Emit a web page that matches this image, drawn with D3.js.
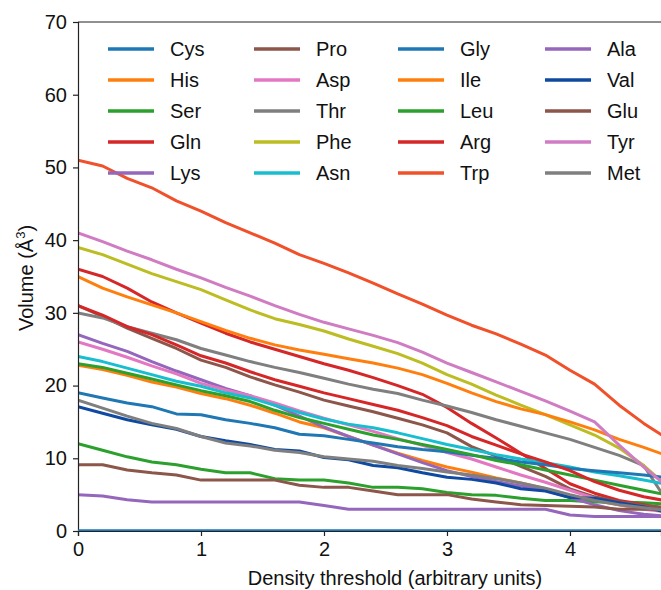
<!DOCTYPE html>
<html><head><meta charset="utf-8">
<script src="https://cdn.jsdelivr.net/npm/d3@7"></script>
<style>body{margin:0;background:#fff}svg{display:block}text{font-family:"Liberation Sans",Arial,sans-serif;fill:#111}</style>
</head><body><svg id="c" width="661" height="590"></svg>
<script>
const thresholds = [0,0.2,0.4,0.6,0.8,1.0,1.2,1.4,1.6,1.8,2.0,2.2,2.4,2.6,2.8,3.0,3.2,3.4,3.6,3.8,4.0,4.2,4.4,4.6,4.8];
const residues = ["Cys","His","Ser","Gln","Lys","Pro","Asp","Thr","Phe","Asn","Gly","Ile","Leu","Arg","Trp","Ala","Val","Glu","Tyr","Met"];
const colors = ["#1f77b4","#ff7f0e","#2ca02c","#d62728","#9467bd","#8c564b","#e377c2","#7f7f7f","#bcbd22","#17becf","#1f77b4","#ff7f0e","#2ca02c","#d62728","#f0502a","#9467bd","#0f4aa0","#8c564b","#d07cc3","#7f7f7f"];
const Cys = [0,0,0,0,0,0,0,0,0,0,0,0,0,0,0,0,0,0,0,0,0,0,0,0,0];
const His = [22.8,22.2,21.4,20.5,19.8,18.9,18.2,17.3,16.2,15.0,14.2,13.0,11.8,10.7,9.7,8.8,8.1,7.3,6.6,5.8,4.9,4.2,3.6,3.1,2.8];
const Ser = [12,11.1,10.2,9.5,9.1,8.5,8.0,8.0,7.2,7.0,7.0,6.6,6.0,6.0,5.8,5.3,5.0,4.9,4.5,4.2,4.2,4.0,4.0,3.9,3.7];
const Gln = [36,35,33.4,31.5,30,28.6,27.2,26,25,24,23,22.1,21.1,20,18.8,17,14.8,12.8,10.7,8.6,6.5,5.2,4.2,3.6,3.0];
const Lys = [27,25.8,24.7,23.3,22,20.8,19.6,18.6,17.3,15.8,14.3,13.0,11.8,10.6,9.4,8.3,7.5,6.8,6.2,5.6,4.6,3.6,2.8,2.3,2.0];
const Pro = [31,29.5,27.9,26.5,25.1,23.5,22.5,21.2,20.1,19.1,18.0,17.2,16.4,15.5,14.6,13.5,11.6,10.3,8.9,7.5,5.8,4.7,4.0,3.5,3.2];
const Asp = [26,25,23.9,22.7,21.6,20.3,19.4,18.6,17.6,16.5,15.5,14.6,13.7,12.7,11.8,10.8,9.9,8.8,7.7,6.7,5.6,4.5,3.6,3.0,2.6];
const Thr = [30,29.3,28.1,27.2,26.3,25.1,24.2,23.3,22.5,21.8,21.0,20.2,19.5,18.9,18.0,17.2,16.3,15.3,14.4,13.5,12.6,11.5,10.4,9.0,3.8];
const Phe = [39,38,36.7,35.4,34.3,33.2,31.8,30.4,29.2,28.4,27.5,26.4,25.4,24.4,23.1,21.5,20.2,18.7,17.3,16,14.6,13.2,11.4,9,6];
const Asn = [24,23.3,22.4,21.5,20.6,19.9,19.0,18.3,17.3,16.3,15.4,14.7,14.2,13.5,12.7,11.9,11.2,10.5,9.9,9.4,8.8,8.1,7.6,7.0,6.4];
const Gly = [19,18.3,17.6,17.1,16.1,16.0,15.3,14.8,14.2,13.3,13.1,12.6,12.1,11.6,11.2,10.9,10.4,10,9.5,9.1,8.6,8.3,8.0,7.7,7.3];
const Ile = [35,33.4,32.2,31.1,30,28.8,27.6,26.5,25.6,24.9,24.3,23.7,23.1,22.4,21.5,20.3,19.0,17.8,16.8,16.0,15.0,13.9,12.6,11.5,10.3];
const Leu = [23,22.5,21.7,20.9,20.1,19.3,18.6,17.8,16.6,15.6,14.8,14.0,13.2,12.6,11.9,11.2,10.5,9.7,9.1,8.4,7.7,7.0,6.3,5.6,4.9];
const Arg = [31,29.7,28.1,27,25.6,24.1,23.1,21.9,20.8,19.9,19.0,18.2,17.4,16.6,15.6,14.5,13.0,11.8,10.6,9.5,8.3,6.8,5.6,4.7,4.1];
const Trp = [51,50.2,48.5,47.2,45.4,44,42.4,41,39.6,38,36.8,35.5,34.1,32.6,31.2,29.7,28.3,27.1,25.7,24.2,22.1,20.2,17.3,14.8,12.6];
const Ala = [5,4.8,4.3,4.0,4.0,4.0,4.0,4.0,4.0,4.0,3.5,3.0,3.0,3.0,3.0,3.0,3.0,3.0,3.0,3.0,2.2,2.0,2.0,2.0,2.0];
const Val = [17.1,16.2,15.3,14.6,14.0,13.0,12.4,11.9,11.2,11.0,10.1,9.8,9.0,8.7,8.0,7.4,7.1,6.6,5.8,5.5,4.6,4.5,3.9,3.3,2.5];
const Glu = [9.1,9.1,8.4,8.0,7.7,7.0,7.0,7.0,7.0,6.3,6.0,6.0,5.5,5.0,5.0,5.0,4.4,4.0,3.6,3.5,3.4,3.3,3.0,3.0,3.0];
const Tyr = [41,39.8,38.5,37.3,36,34.8,33.5,32.3,31,29.8,28.7,27.8,26.9,25.9,24.6,23.1,21.8,20.5,19.2,17.9,16.5,15,11.8,8.8,6];
const Met = [18,16.9,15.8,14.8,14.1,13.0,12.1,11.7,11.1,10.8,10.2,9.9,9.6,9.0,8.6,8.1,7.7,7.2,6.6,5.9,5.0,4.2,3.6,3.2,2.8];
const seriesValues = [Cys,His,Ser,Gln,Lys,Pro,Asp,Thr,Phe,Asn,Gly,Ile,Leu,Arg,Trp,Ala,Val,Glu,Tyr,Met];
const yTicks = [0,10,20,30,40,50,60,70];
const xTicks = [0,1,2,3,4];

const svg = d3.select("#c");
const m = {l:78, t:22, r:661, b:531};
const x = d3.scaleLinear().domain([0,4.74]).range([m.l, m.r]);
const y = d3.scaleLinear().domain([0,70]).range([m.b, m.t]);

svg.append("defs").append("clipPath").attr("id","clip")
  .append("rect").attr("x",m.l).attr("y",m.t).attr("width",m.r-m.l).attr("height",m.b-m.t);

const line = d3.line().x((d,i)=>x(thresholds[i])).y(d=>y(d));
const g = svg.append("g").attr("clip-path","url(#clip)");
seriesValues.forEach((vals,i)=>{
  g.append("path").attr("d",line(vals)).attr("fill","none")
    .attr("stroke",colors[i]).attr("stroke-width",3).attr("stroke-linejoin","round");
});

// spines
svg.append("line").attr("x1",m.l).attr("x2",m.r).attr("y1",m.t).attr("y2",m.t).attr("stroke","#222").attr("stroke-width",1.2);
const ya = svg.append("g").attr("transform",`translate(${m.l},0)`)
  .call(d3.axisLeft(y).tickValues(yTicks).tickFormat(d3.format("d")).tickSize(5).tickPadding(6));
const xa = svg.append("g").attr("transform",`translate(0,${m.b})`)
  .call(d3.axisBottom(x).tickValues(xTicks).tickFormat(d3.format("d")).tickSize(5).tickPadding(6));
[ya,xa].forEach(a=>{
  a.select(".domain").attr("stroke","#222").attr("stroke-width",1.2);
  a.selectAll(".tick line").attr("stroke","#222").attr("stroke-width",1.2);
  a.selectAll("text").attr("font-size",20).attr("fill","#111").attr("font-family","Liberation Sans, Arial, sans-serif");
});
// redraw Cys on top of axis
svg.append("g").attr("clip-path","url(#clip)").append("path").attr("d",line(Cys)).attr("fill","none")
  .attr("stroke",colors[0]).attr("stroke-width",3);

svg.append("text").attr("x",395).attr("y",585).attr("text-anchor","middle")
  .attr("font-size",20).text("Density threshold (arbitrary units)");
const yl = svg.append("text").attr("transform",`translate(33,278) rotate(-90)`)
  .attr("text-anchor","middle").attr("font-size",20);
yl.append("tspan").text("Volume (Å");
yl.append("tspan").attr("font-size",13).attr("dy",-8).text("3");
yl.append("tspan").attr("dy",8).text(")");

// legend
const colX = [108,254,398,545];
const rowY = [49,80,111,142,173];
residues.forEach((r,i)=>{
  const c = Math.floor(i/5), rr = i%5;
  svg.append("line").attr("x1",colX[c]).attr("x2",colX[c]+46).attr("y1",rowY[rr]).attr("y2",rowY[rr])
    .attr("stroke",colors[i]).attr("stroke-width",3.5);
  svg.append("text").attr("x",colX[c]+62).attr("y",rowY[rr]+7).attr("font-size",20).text(r);
});
</script></body></html>
